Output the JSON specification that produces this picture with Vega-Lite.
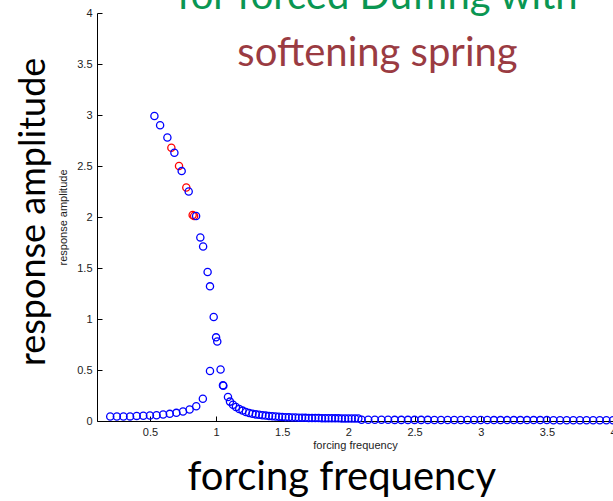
{
  "$schema": "https://vega.github.io/schema/vega-lite/v6.json",
  "autosize": {"type": "none"},
  "width": 516,
  "height": 408,
  "padding": {"left": 97, "top": 13, "right": 0, "bottom": 80},
  "background": "white",
  "config": {"view": {"stroke": null}},
  "layer": [
    {
      "data": {"values": [
        {"f": 0.662, "a": 2.68, "s": "red"},
        {"f": 0.72, "a": 2.50, "s": "red"},
        {"f": 0.775, "a": 2.29, "s": "red"},
        {"f": 0.823, "a": 2.02, "s": "red"},
        {"f": 0.834, "a": 2.01, "s": "red"},
        {"f": 0.2, "a": 0.044, "s": "blue"},
        {"f": 0.25, "a": 0.044, "s": "blue"},
        {"f": 0.3, "a": 0.044, "s": "blue"},
        {"f": 0.35, "a": 0.045, "s": "blue"},
        {"f": 0.4, "a": 0.05, "s": "blue"},
        {"f": 0.45, "a": 0.052, "s": "blue"},
        {"f": 0.5, "a": 0.054, "s": "blue"},
        {"f": 0.55, "a": 0.056, "s": "blue"},
        {"f": 0.6, "a": 0.063, "s": "blue"},
        {"f": 0.65, "a": 0.07, "s": "blue"},
        {"f": 0.7, "a": 0.08, "s": "blue"},
        {"f": 0.75, "a": 0.093, "s": "blue"},
        {"f": 0.8, "a": 0.113, "s": "blue"},
        {"f": 0.85, "a": 0.145, "s": "blue"},
        {"f": 0.9, "a": 0.218, "s": "blue"},
        {"f": 0.534, "a": 2.99, "s": "blue"},
        {"f": 0.577, "a": 2.90, "s": "blue"},
        {"f": 0.632, "a": 2.78, "s": "blue"},
        {"f": 0.685, "a": 2.63, "s": "blue"},
        {"f": 0.74, "a": 2.45, "s": "blue"},
        {"f": 0.793, "a": 2.25, "s": "blue"},
        {"f": 0.849, "a": 2.01, "s": "blue"},
        {"f": 0.881, "a": 1.80, "s": "blue"},
        {"f": 0.902, "a": 1.71, "s": "blue"},
        {"f": 0.936, "a": 1.46, "s": "blue"},
        {"f": 0.954, "a": 1.32, "s": "blue"},
        {"f": 0.982, "a": 1.02, "s": "blue"},
        {"f": 1.0, "a": 0.82, "s": "blue"},
        {"f": 1.009, "a": 0.78, "s": "blue"},
        {"f": 0.954, "a": 0.49, "s": "blue"},
        {"f": 1.034, "a": 0.505, "s": "blue"},
        {"f": 1.052, "a": 0.35, "s": "blue"},
        {"f": 1.055, "a": 0.345, "s": "blue"},
        {"f": 1.09, "a": 0.235, "s": "blue"},
        {"f": 1.105, "a": 0.19, "s": "blue"},
        {"f": 1.128, "a": 0.16, "s": "blue"},
        {"f": 1.15, "a": 0.138, "s": "blue"},
        {"f": 1.175, "a": 0.118, "s": "blue"},
        {"f": 1.2, "a": 0.102, "s": "blue"},
        {"f": 1.225, "a": 0.088, "s": "blue"},
        {"f": 1.25, "a": 0.078, "s": "blue"},
        {"f": 1.275, "a": 0.071, "s": "blue"},
        {"f": 1.3, "a": 0.065, "s": "blue"},
        {"f": 1.325, "a": 0.061, "s": "blue"},
        {"f": 1.35, "a": 0.057, "s": "blue"},
        {"f": 1.375, "a": 0.053, "s": "blue"},
        {"f": 1.4, "a": 0.049, "s": "blue"},
        {"f": 1.425, "a": 0.046, "s": "blue"},
        {"f": 1.45, "a": 0.044, "s": "blue"},
        {"f": 1.475, "a": 0.041, "s": "blue"},
        {"f": 1.5, "a": 0.039, "s": "blue"},
        {"f": 1.525, "a": 0.037, "s": "blue"},
        {"f": 1.55, "a": 0.036, "s": "blue"},
        {"f": 1.575, "a": 0.035, "s": "blue"},
        {"f": 1.6, "a": 0.034, "s": "blue"},
        {"f": 1.625, "a": 0.033, "s": "blue"},
        {"f": 1.65, "a": 0.032, "s": "blue"},
        {"f": 1.675, "a": 0.031, "s": "blue"},
        {"f": 1.7, "a": 0.03, "s": "blue"},
        {"f": 1.725, "a": 0.03, "s": "blue"},
        {"f": 1.75, "a": 0.029, "s": "blue"},
        {"f": 1.775, "a": 0.029, "s": "blue"},
        {"f": 1.8, "a": 0.028, "s": "blue"},
        {"f": 1.825, "a": 0.028, "s": "blue"},
        {"f": 1.85, "a": 0.027, "s": "blue"},
        {"f": 1.875, "a": 0.027, "s": "blue"},
        {"f": 1.9, "a": 0.026, "s": "blue"},
        {"f": 1.925, "a": 0.026, "s": "blue"},
        {"f": 1.95, "a": 0.025, "s": "blue"},
        {"f": 1.975, "a": 0.025, "s": "blue"},
        {"f": 2.0, "a": 0.025, "s": "blue"},
        {"f": 2.025, "a": 0.024, "s": "blue"},
        {"f": 2.05, "a": 0.024, "s": "blue"},
        {"f": 2.075, "a": 0.024, "s": "blue"},
        {"f": 2.1, "a": 0.012, "s": "blue"},
        {"f": 2.15, "a": 0.012, "s": "blue"},
        {"f": 2.2, "a": 0.012, "s": "blue"},
        {"f": 2.25, "a": 0.012, "s": "blue"},
        {"f": 2.3, "a": 0.012, "s": "blue"},
        {"f": 2.35, "a": 0.011, "s": "blue"},
        {"f": 2.4, "a": 0.011, "s": "blue"},
        {"f": 2.45, "a": 0.011, "s": "blue"},
        {"f": 2.5, "a": 0.011, "s": "blue"},
        {"f": 2.55, "a": 0.011, "s": "blue"},
        {"f": 2.6, "a": 0.011, "s": "blue"},
        {"f": 2.65, "a": 0.01, "s": "blue"},
        {"f": 2.7, "a": 0.01, "s": "blue"},
        {"f": 2.75, "a": 0.01, "s": "blue"},
        {"f": 2.8, "a": 0.01, "s": "blue"},
        {"f": 2.85, "a": 0.01, "s": "blue"},
        {"f": 2.9, "a": 0.01, "s": "blue"},
        {"f": 2.95, "a": 0.01, "s": "blue"},
        {"f": 3.0, "a": 0.01, "s": "blue"},
        {"f": 3.05, "a": 0.01, "s": "blue"},
        {"f": 3.1, "a": 0.009, "s": "blue"},
        {"f": 3.15, "a": 0.009, "s": "blue"},
        {"f": 3.2, "a": 0.009, "s": "blue"},
        {"f": 3.25, "a": 0.009, "s": "blue"},
        {"f": 3.3, "a": 0.009, "s": "blue"},
        {"f": 3.35, "a": 0.009, "s": "blue"},
        {"f": 3.4, "a": 0.009, "s": "blue"},
        {"f": 3.45, "a": 0.009, "s": "blue"},
        {"f": 3.5, "a": 0.009, "s": "blue"},
        {"f": 3.55, "a": 0.008, "s": "blue"},
        {"f": 3.6, "a": 0.008, "s": "blue"},
        {"f": 3.65, "a": 0.008, "s": "blue"},
        {"f": 3.7, "a": 0.008, "s": "blue"},
        {"f": 3.75, "a": 0.008, "s": "blue"},
        {"f": 3.8, "a": 0.008, "s": "blue"},
        {"f": 3.85, "a": 0.008, "s": "blue"},
        {"f": 3.9, "a": 0.008, "s": "blue"},
        {"f": 3.95, "a": 0.008, "s": "blue"},
        {"f": 4.0, "a": 0.008, "s": "blue"}
      ]},
      "mark": {"type": "point", "shape": "circle", "filled": false, "size": 52, "strokeWidth": 1.3, "opacity": 1},
      "encoding": {
        "x": {"field": "f", "type": "quantitative",
          "scale": {"domain": [0.1, 4], "nice": false, "zero": false},
          "axis": {"title": "forcing frequency", "values": [0.5, 1, 1.5, 2, 2.5, 3, 3.5, 4], "format": "~g",
            "grid": false, "domainColor": "#000000", "tickColor": "#000000", "tickSize": -5,
            "labelFont": "Liberation Sans", "labelFontSize": 11, "labelColor": "#222222", "labelPadding": 10, "labelFlush": false,
            "titleFont": "Liberation Sans", "titleFontSize": 11, "titleFontWeight": "normal", "titleColor": "#222222", "titlePadding": 2}},
        "y": {"field": "a", "type": "quantitative",
          "scale": {"domain": [0, 4], "nice": false},
          "axis": {"title": "response amplitude", "values": [0, 0.5, 1, 1.5, 2, 2.5, 3, 3.5, 4], "format": "~g",
            "grid": false, "domainColor": "#000000", "tickColor": "#000000", "tickSize": -5,
            "labelFont": "Liberation Sans", "labelFontSize": 11, "labelColor": "#222222", "labelPadding": 10, "labelFlush": false,
            "titleFont": "Liberation Sans", "titleFontSize": 11, "titleFontWeight": "normal", "titleColor": "#222222", "titlePadding": 8}},
        "color": {"field": "s", "type": "nominal", "scale": {"domain": ["blue", "red"], "range": ["#0000ff", "#ff0000"]}, "legend": null},
        "order": {"field": "s", "sort": "descending"}
      }
    },
    {
      "data": {"values": [{"t": "for forced Duffing with"}]},
      "mark": {"type": "text", "font": "Lato", "fontSize": 40, "color": "#0a9652", "align": "center", "baseline": "alphabetic"},
      "encoding": {"x": {"datum": 2.22, "type": "quantitative"}, "y": {"datum": 4.04, "type": "quantitative"}, "text": {"field": "t"}}
    },
    {
      "data": {"values": [{"t": "softening spring"}]},
      "mark": {"type": "text", "font": "Lato", "fontSize": 40, "color": "#9a3b42", "align": "center", "baseline": "alphabetic"},
      "encoding": {"x": {"datum": 2.22, "type": "quantitative"}, "y": {"datum": 3.48, "type": "quantitative"}, "text": {"field": "t"}}
    },
    {
      "data": {"values": [{"t": "forcing frequency"}]},
      "mark": {"type": "text", "font": "Lato", "fontSize": 40, "color": "#000000", "align": "center", "baseline": "alphabetic"},
      "encoding": {"x": {"datum": 1.95, "type": "quantitative"}, "y": {"datum": -0.68, "type": "quantitative"}, "text": {"field": "t"}}
    },
    {
      "data": {"values": [{"t": "response amplitude"}]},
      "mark": {"type": "text", "font": "Lato", "fontSize": 36, "color": "#000000", "align": "center", "baseline": "alphabetic", "angle": 270},
      "encoding": {"x": {"datum": -0.29, "type": "quantitative"}, "y": {"datum": 2.05, "type": "quantitative"}, "text": {"field": "t"}}
    }
  ]
}
